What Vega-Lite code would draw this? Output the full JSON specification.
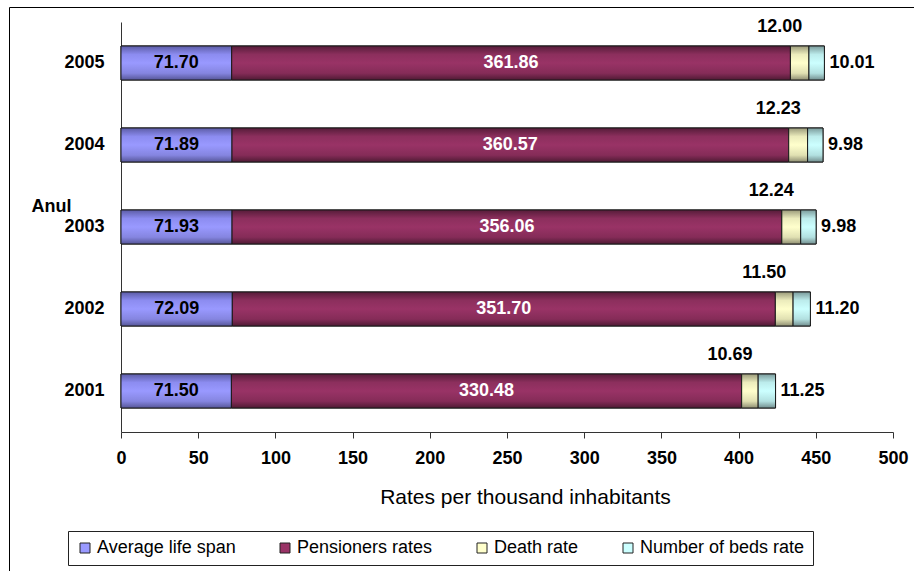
{
  "$schema": "https://vega.github.io/schema/vega-lite/v6.json",
  "width": 906,
  "height": 570,
  "autosize": {"type": "none"},
  "padding": {"left": 9, "top": 7, "right": 0, "bottom": 0},
  "background": "white",
  "config": {
    "font": "Liberation Sans",
    "view": {"stroke": "black", "strokeWidth": 1}
  },
  "data": {
    "values": [
      {"year": "2001", "series": "Average life span", "order": 1, "value": 71.50},
      {"year": "2001", "series": "Pensioners rates", "order": 2, "value": 330.48},
      {"year": "2001", "series": "Death rate", "order": 3, "value": 10.69},
      {"year": "2001", "series": "Number of beds rate", "order": 4, "value": 11.25},
      {"year": "2002", "series": "Average life span", "order": 1, "value": 72.09},
      {"year": "2002", "series": "Pensioners rates", "order": 2, "value": 351.70},
      {"year": "2002", "series": "Death rate", "order": 3, "value": 11.50},
      {"year": "2002", "series": "Number of beds rate", "order": 4, "value": 11.20},
      {"year": "2003", "series": "Average life span", "order": 1, "value": 71.93},
      {"year": "2003", "series": "Pensioners rates", "order": 2, "value": 356.06},
      {"year": "2003", "series": "Death rate", "order": 3, "value": 12.24},
      {"year": "2003", "series": "Number of beds rate", "order": 4, "value": 9.98},
      {"year": "2004", "series": "Average life span", "order": 1, "value": 71.89},
      {"year": "2004", "series": "Pensioners rates", "order": 2, "value": 360.57},
      {"year": "2004", "series": "Death rate", "order": 3, "value": 12.23},
      {"year": "2004", "series": "Number of beds rate", "order": 4, "value": 9.98},
      {"year": "2005", "series": "Average life span", "order": 1, "value": 71.70},
      {"year": "2005", "series": "Pensioners rates", "order": 2, "value": 361.86},
      {"year": "2005", "series": "Death rate", "order": 3, "value": 12.00},
      {"year": "2005", "series": "Number of beds rate", "order": 4, "value": 10.01}
    ]
  },
  "transform": [
    {"stack": "value", "groupby": ["year"], "sort": [{"field": "order", "order": "ascending"}], "as": ["x0", "x1"]},
    {"calculate": "(datum.x0 + datum.x1) / 2", "as": "xm"}
  ],
  "encoding": {
    "y": {
      "field": "year",
      "type": "ordinal",
      "sort": "descending",
      "scale": {"range": [15, 425], "paddingInner": 0.585, "paddingOuter": 0.2925},
      "axis": {
        "title": "Anul",
        "titleAngle": 0,
        "titleAlign": "left",
        "titleBaseline": "alphabetic",
        "titleX": -90,
        "titleY": 204,
        "titleFontSize": 18,
        "titleFontWeight": "bold",
        "titleColor": "black",
        "labelFontSize": 18,
        "labelFontWeight": "bold",
        "labelColor": "black",
        "labelPadding": 17,
        "ticks": false,
        "tickSize": 0,
        "domainColor": "#333333",
        "offset": -112
      }
    }
  },
  "layer": [
    {
      "mark": {"type": "bar", "stroke": "#1a1a1a", "strokeWidth": 1},
      "encoding": {
        "x": {
          "field": "x0",
          "type": "quantitative",
          "title": "Rates per thousand inhabitants",
          "scale": {"domain": [0, 500], "range": [112, 884], "nice": false, "zero": true},
          "axis": {
            "values": [0, 50, 100, 150, 200, 250, 300, 350, 400, 450, 500],
            "titleFontSize": 21,
            "titleFontWeight": "normal",
            "titleColor": "black",
            "titleX": 516,
            "titleY": 71,
            "titleAlign": "center",
            "titleBaseline": "alphabetic",
            "labelFontSize": 18,
            "labelFontWeight": "bold",
            "labelColor": "black",
            "labelPadding": 11,
            "labelFlush": false,
            "labelOverlap": false,
            "tickSize": 6,
            "tickColor": "#333333",
            "domainColor": "#333333",
            "grid": false,
            "offset": -145
          }
        },
        "x2": {"field": "x1"},
        "color": {
          "field": "series",
          "type": "nominal",
          "scale": {
            "domain": ["Average life span", "Pensioners rates", "Death rate", "Number of beds rate"],
            "range": ["#9999ff", "#993366", "#ffffcc", "#ccffff"]
          },
          "legend": {
            "orient": "none",
            "legendX": 59,
            "legendY": 524,
            "direction": "horizontal",
            "columns": 4,
            "title": null,
            "symbolType": "square",
            "symbolSize": 100,
            "symbolStrokeColor": "#222222",
            "symbolStrokeWidth": 1,
            "labelFontSize": 18,
            "labelColor": "black",
            "labelOffset": 3,
            "labelLimit": 400,
            "columnPadding": 40,
            "padding": 8,
            "strokeColor": "#222222",
            "fillColor": "white"
          }
        }
      }
    },
    {
      "transform": [{"filter": "datum.series === 'Average life span'"}],
      "mark": {
        "type": "bar", "stroke": "#1a1a1a", "strokeWidth": 1,
        "fill": {"gradient": "linear", "x1": 0, "y1": 0, "x2": 0, "y2": 1,
          "stops": [{"offset": 0, "color": "#5c5ca6"}, {"offset": 0.25, "color": "#8c8cf0"}, {"offset": 0.5, "color": "#9999ff"}, {"offset": 0.8, "color": "#8585e0"}, {"offset": 1, "color": "#565698"}]}
      },
      "encoding": {
        "x": {"field": "x0", "type": "quantitative", "title": "Rates per thousand inhabitants"},
        "x2": {"field": "x1"}
      }
    },
    {
      "transform": [{"filter": "datum.series === 'Pensioners rates'"}],
      "mark": {
        "type": "bar", "stroke": "#1a1a1a", "strokeWidth": 1,
        "fill": {"gradient": "linear", "x1": 0, "y1": 0, "x2": 0, "y2": 1,
          "stops": [{"offset": 0, "color": "#561c39"}, {"offset": 0.25, "color": "#8c2f5d"}, {"offset": 0.5, "color": "#993366"}, {"offset": 0.8, "color": "#852c58"}, {"offset": 1, "color": "#4f1a34"}]}
      },
      "encoding": {
        "x": {"field": "x0", "type": "quantitative", "title": "Rates per thousand inhabitants"},
        "x2": {"field": "x1"}
      }
    },
    {
      "transform": [{"filter": "datum.series === 'Death rate'"}],
      "mark": {
        "type": "bar", "stroke": "#1a1a1a", "strokeWidth": 1,
        "fill": {"gradient": "linear", "x1": 0, "y1": 0, "x2": 0, "y2": 1,
          "stops": [{"offset": 0, "color": "#9a9a7a"}, {"offset": 0.25, "color": "#ececbc"}, {"offset": 0.5, "color": "#ffffcc"}, {"offset": 0.8, "color": "#e0e0b2"}, {"offset": 1, "color": "#8e8e72"}]}
      },
      "encoding": {
        "x": {"field": "x0", "type": "quantitative", "title": "Rates per thousand inhabitants"},
        "x2": {"field": "x1"}
      }
    },
    {
      "transform": [{"filter": "datum.series === 'Number of beds rate'"}],
      "mark": {
        "type": "bar", "stroke": "#1a1a1a", "strokeWidth": 1,
        "fill": {"gradient": "linear", "x1": 0, "y1": 0, "x2": 0, "y2": 1,
          "stops": [{"offset": 0, "color": "#7a9a9a"}, {"offset": 0.25, "color": "#bcecec"}, {"offset": 0.5, "color": "#ccffff"}, {"offset": 0.8, "color": "#b2e0e0"}, {"offset": 1, "color": "#728e8e"}]}
      },
      "encoding": {
        "x": {"field": "x0", "type": "quantitative", "title": "Rates per thousand inhabitants"},
        "x2": {"field": "x1"}
      }
    },
    {
      "transform": [{"filter": "datum.order <= 2"}],
      "mark": {"type": "text", "fontSize": 18, "fontWeight": "bold", "align": "center", "baseline": "middle"},
      "encoding": {
        "x": {"field": "xm", "type": "quantitative", "title": "Rates per thousand inhabitants"},
        "text": {"field": "value", "type": "quantitative", "format": ".2f"},
        "color": {"condition": {"test": "datum.order === 2", "value": "white"}, "value": "black"}
      }
    },
    {
      "transform": [{"filter": "datum.series === 'Death rate'"}],
      "mark": {"type": "text", "fontSize": 18, "fontWeight": "bold", "align": "center", "baseline": "middle", "dx": -20, "dy": -36, "color": "black"},
      "encoding": {
        "x": {"field": "xm", "type": "quantitative", "title": "Rates per thousand inhabitants"},
        "text": {"field": "value", "type": "quantitative", "format": ".2f"}
      }
    },
    {
      "transform": [{"filter": "datum.series === 'Number of beds rate'"}],
      "mark": {"type": "text", "fontSize": 18, "fontWeight": "bold", "align": "left", "baseline": "middle", "dx": 5, "color": "black"},
      "encoding": {
        "x": {"field": "x1", "type": "quantitative", "title": "Rates per thousand inhabitants"},
        "text": {"field": "value", "type": "quantitative", "format": ".2f"}
      }
    }
  ]
}
